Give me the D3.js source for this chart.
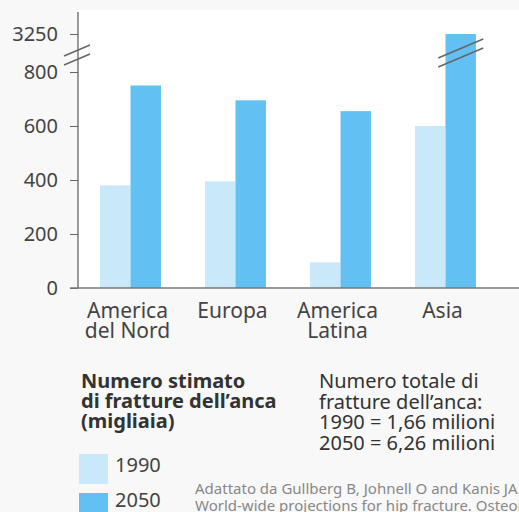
<!DOCTYPE html>
<html>
<head>
<meta charset="utf-8">
<script src="https://cdn.jsdelivr.net/npm/d3@7"></script>
<style>
  body { margin: 0; background: #f8f8f8; }
  svg { display: block; font-family: "Noto Sans", "Open Sans", sans-serif; }
</style>
</head>
<body>
<svg id="chart" width="519" height="512"></svg>
<script>
// data (migliaia di fratture)
var regions = ["America del Nord", "Europa", "America Latina", "Asia"];
var years = ["1990", "2050"];
var values1990 = [380, 395, 95, 600];
var values2050 = [750, 695, 655, 3250];
var yTicks = [0, 200, 400, 600, 800, 3250];
var colors = ["#c9e8fa", "#62c0f2"];

var totalsText = ["Numero totale di", "fratture dell\u2019anca:", "1990 = 1,66 milioni", "2050 = 6,26 milioni"];
var legendTitle = ["Numero stimato", "di fratture dell\u2019anca", "(migliaia)"];
var sourceText = ["Adattato da Gullberg B, Johnell O and Kanis JA.", "World-wide projections for hip fracture. Osteoporos Int 1997"];

var svg = d3.select("#chart");

// chart area backdrop
svg.append("rect").attr("x", 78).attr("y", 10).attr("width", 441).attr("height", 278).attr("fill", "#ffffff");

var x = d3.scaleBand().domain(regions).range([78, 498]).paddingInner(0.42).paddingOuter(0.21);
var xs = d3.scaleBand().domain(years).range([0, x.bandwidth()]);
// broken axis: 0-800 linear, then a jump to 3250
var y = d3.scaleLinear().domain([0, 800, 3250]).range([288, 72, 34]);

var rows = regions.map(function(r, i) { return {region: r, vals: [values1990[i], values2050[i]]}; });

var g = svg.selectAll(".grp").data(rows).enter().append("g")
  .attr("transform", function(d) { return "translate(" + x(d.region) + ",0)"; });

g.selectAll("rect").data(function(d) { return d.vals.map(function(v, j) { return {year: years[j], v: v}; }); })
  .enter().append("rect")
  .attr("x", function(d) { return xs(d.year); })
  .attr("width", xs.bandwidth())
  .attr("y", function(d) { return y(d.v); })
  .attr("height", function(d) { return 288 - y(d.v); })
  .attr("fill", function(d, j) { return colors[j]; });

// y axis
var yAxis = svg.append("g").attr("transform", "translate(78,0)")
  .call(d3.axisLeft(y).tickValues(yTicks).tickFormat(d3.format("d")).tickSize(8).tickPadding(12));
yAxis.select(".domain").remove();
yAxis.selectAll("line").attr("stroke", "#666");
yAxis.selectAll("text").attr("font-size", 20).attr("fill", "#444").attr("font-family", "Noto Sans");
svg.append("line").attr("x1", 78).attr("x2", 78).attr("y1", 12).attr("y2", 288).attr("stroke", "#666").attr("stroke-width", 1.3);

// x axis line
svg.append("line").attr("x1", 70).attr("x2", 519).attr("y1", 288).attr("y2", 288).attr("stroke", "#777").attr("stroke-width", 1.5);

// break marks
function breakMarks(cx, cy, w) {
  [-4.5, 4.5].forEach(function(o) {
    svg.append("line")
      .attr("x1", cx - w / 2).attr("y1", cy + o + w * 0.21)
      .attr("x2", cx + w / 2).attr("y2", cy + o - w * 0.21)
      .attr("stroke", "#666").attr("stroke-width", 1.5);
  });
}
breakMarks(77, (y(800) + y(3250)) / 2 + 2, 26);
breakMarks(x("Asia") + xs("2050") + xs.bandwidth() / 2, 53, 45);

// category labels
var lab = svg.selectAll(".cat").data(regions).enter().append("text")
  .attr("text-anchor", "middle").attr("font-size", 21).attr("fill", "#444")
  .attr("transform", function(d) { return "translate(" + (x(d) + x.bandwidth() / 2 - 3) + ",318)"; });
lab.each(function(d) {
  var words = d.split(" ");
  var lines = words.length > 1 ? [words[0], words.slice(1).join(" ")] : [d];
  d3.select(this).selectAll("tspan").data(lines).enter().append("tspan")
    .attr("x", 0).attr("dy", function(l, i) { return i ? 20 : 0; }).text(function(l) { return l; });
});

// legend
svg.append("text").attr("font-size", 20).attr("font-weight", "bold").attr("fill", "#333")
  .selectAll("tspan").data(legendTitle).enter().append("tspan")
  .attr("x", 81).attr("y", function(d, i) { return 388 + i * 20; }).text(function(d) { return d; });

svg.selectAll(".legr").data(years).enter().append("rect")
  .attr("x", 79).attr("y", function(d, i) { return 454 + i * 39; })
  .attr("width", 29).attr("height", 30).attr("fill", function(d, i) { return colors[i]; });
svg.selectAll(".legt").data(years).enter().append("text")
  .attr("x", 115).attr("y", function(d, i) { return 472 + i * 35; })
  .attr("font-size", 20).attr("fill", "#444").text(function(d) { return d; });

// totals
svg.append("text").attr("font-size", 20).attr("fill", "#333")
  .selectAll("tspan").data(totalsText).enter().append("tspan")
  .attr("x", 319).attr("y", function(d, i) { return 388 + i * 20.7; }).text(function(d) { return d; });

// source
svg.append("text").attr("font-size", 15).attr("fill", "#888")
  .selectAll("tspan").data(sourceText).enter().append("tspan")
  .attr("x", 195).attr("y", function(d, i) { return 494 + i * 17; }).text(function(d) { return d; });
</script>
</body>
</html>
